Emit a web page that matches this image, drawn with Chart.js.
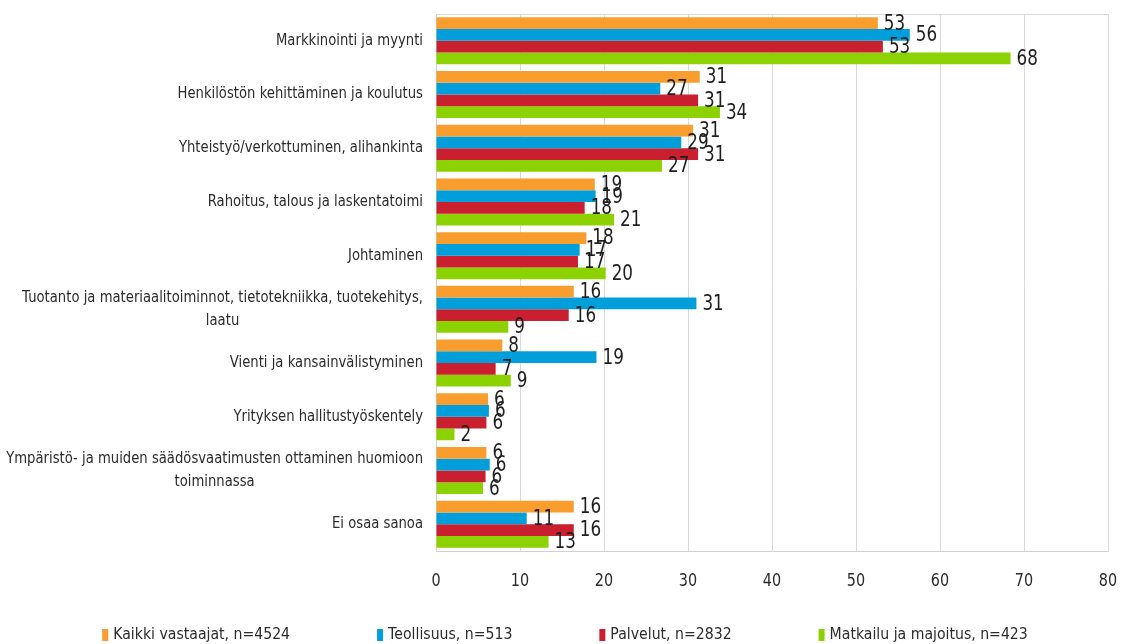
<!DOCTYPE html>
<html>
<head>
<meta charset="utf-8">
<script src="https://cdn.jsdelivr.net/npm/chart.js@4.4.1/dist/chart.umd.min.js"></script>
<style>
  html, body { margin: 0; padding: 0; background: #fff; }
  #wrap { width: 1130px; height: 644px; position: relative; }
</style>
</head>
<body>
<div id="wrap"><canvas id="mainChart" width="1130" height="644"></canvas></div>
<script>
// Categories (multi-line ones as arrays)
const categories = [
  "Markkinointi ja myynti",
  "Henkilöstön kehittäminen ja koulutus",
  "Yhteistyö/verkottuminen, alihankinta",
  "Rahoitus, talous ja laskentatoimi",
  "Johtaminen",
  ["Tuotanto ja materiaalitoiminnot, tietotekniikka, tuotekehitys,", "laatu"],
  "Vienti ja kansainvälistyminen",
  "Yrityksen hallitustyöskentely",
  ["Ympäristö- ja muiden säädösvaatimusten ottaminen huomioon", "toiminnassa"],
  "Ei osaa sanoa"
];

const seriesNames = [
  "Kaikki vastaajat, n=4524",
  "Teollisuus, n=513",
  "Palvelut, n=2832",
  "Matkailu ja majoitus, n=423"
];

const kaikki = [52.6, 31.4, 30.6, 18.9, 17.9, 16.4, 7.9, 6.2, 6.0, 16.4];
const teollisuus = [56.4, 26.7, 29.2, 19.0, 17.1, 31.0, 19.1, 6.3, 6.4, 10.8];
const palvelut = [53.2, 31.2, 31.2, 17.7, 16.9, 15.8, 7.1, 6.0, 5.9, 16.4];
const matkailu = [68.4, 33.8, 26.9, 21.2, 20.2, 8.6, 8.9, 2.2, 5.6, 13.4];

const xTicks = [0, 10, 20, 30, 40, 50, 60, 70, 80];

const colors = ["#F99D2F", "#009FDB", "#CA1F2F", "#8CD100"];

const FONT = '"DejaVu Sans", Verdana, sans-serif';
const SX_TEXT = 0.88; // the source text is narrow
const SX_NUM = 0.8;

function narrowText(ctx, text, x, y, align, size, color, sx) {
  ctx.save();
  ctx.font = size + "px " + FONT;
  ctx.textBaseline = "middle";
  ctx.fillStyle = color;
  const w = ctx.measureText(text).width * sx;
  let left = x;
  if (align === "right") left = x - w;
  else if (align === "center") left = x - w / 2;
  ctx.translate(left, y);
  ctx.scale(sx, 1);
  ctx.textAlign = "left";
  ctx.fillText(text, 0, 0);
  ctx.restore();
  return w;
}

function textWidth(ctx, text, size, sx) {
  ctx.save();
  ctx.font = size + "px " + FONT;
  const w = ctx.measureText(text).width * sx;
  ctx.restore();
  return w;
}

// Draws frame, category labels, tick labels, value labels and legend
const decorPlugin = {
  id: "decor",
  afterDatasetsDraw(chart) {
    const ctx = chart.ctx;
    const area = chart.chartArea;
    const xs = chart.scales.x;
    const ys = chart.scales.y;

    // top frame line
    ctx.save();
    ctx.strokeStyle = "#d9d9d9";
    ctx.lineWidth = 1;
    ctx.beginPath();
    ctx.moveTo(area.left, area.top + 0.5);
    ctx.lineTo(area.right, area.top + 0.5);
    ctx.stroke();
    ctx.restore();

    // category labels
    categories.forEach((label, i) => {
      const cy = ys.getPixelForValue(i);
      const lines = Array.isArray(label) ? label : [label];
      const widths = lines.map((l) => textWidth(ctx, l, 15, SX_TEXT));
      const maxW = Math.max(...widths);
      const cx = area.left - 13 - maxW / 2;
      const lh = 23;
      lines.forEach((l, k) => {
        const ly = cy + (k - (lines.length - 1) / 2) * lh;
        narrowText(ctx, l, cx, ly, "center", 15, "#2b2b2b", SX_TEXT);
      });
    });

    // x tick labels
    xTicks.forEach((v) => {
      narrowText(ctx, String(v), xs.getPixelForValue(v), area.bottom + 30, "center", 18, "#2b2b2b", SX_NUM);
    });

    // value labels
    chart.data.datasets.forEach((ds, i) => {
      const meta = chart.getDatasetMeta(i);
      meta.data.forEach((bar, j) => {
        narrowText(ctx, String(Math.round(ds.data[j])), bar.x + 6, bar.y + 1, "left", 21, "#1e1e1e", SX_NUM);
      });
    });

    // legend
    const gap = 87;
    const box = 6;
    const items = seriesNames.map((n) => box + 5 + textWidth(ctx, n, 16, SX_TEXT));
    const total = items.reduce((a, b) => a + b, 0) + gap * (items.length - 1);
    let lx = chart.width / 2 - total / 2;
    const ly = 635;
    seriesNames.forEach((n, i) => {
      ctx.fillStyle = colors[i];
      ctx.fillRect(lx, ly - 6, box, 12);
      narrowText(ctx, n, lx + box + 5, ly, "left", 16, "#2b2b2b", SX_TEXT);
      lx += items[i] + gap;
    });
  }
};

const ctx = document.getElementById("mainChart").getContext("2d");
new Chart(ctx, {
  type: "bar",
  data: {
    labels: categories,
    datasets: [
      { label: seriesNames[0], data: kaikki, backgroundColor: colors[0] },
      { label: seriesNames[1], data: teollisuus, backgroundColor: colors[1] },
      { label: seriesNames[2], data: palvelut, backgroundColor: colors[2] },
      { label: seriesNames[3], data: matkailu, backgroundColor: colors[3] }
    ]
  },
  options: {
    indexAxis: "y",
    responsive: false,
    animation: false,
    devicePixelRatio: 1,
    layout: { padding: { top: 14, right: 22, left: 0, bottom: 0 } },
    datasets: {
      bar: { categoryPercentage: 0.875, barPercentage: 1, borderWidth: 0 }
    },
    scales: {
      x: {
        min: 0,
        max: 80,
        ticks: { stepSize: 10, display: false },
        grid: { color: "#d9d9d9", lineWidth: 1, drawTicks: false },
        border: { display: true, color: "#d0d0d0" },
        afterFit(scale) { scale.height = 93; }
      },
      y: {
        ticks: { display: false },
        grid: { display: false, drawTicks: false },
        border: { display: true, color: "#d0d0d0" },
        afterFit(scale) { scale.width = 436; }
      }
    },
    plugins: {
      legend: { display: false },
      tooltip: { enabled: false }
    }
  },
  plugins: [decorPlugin]
});
</script>
</body>
</html>
